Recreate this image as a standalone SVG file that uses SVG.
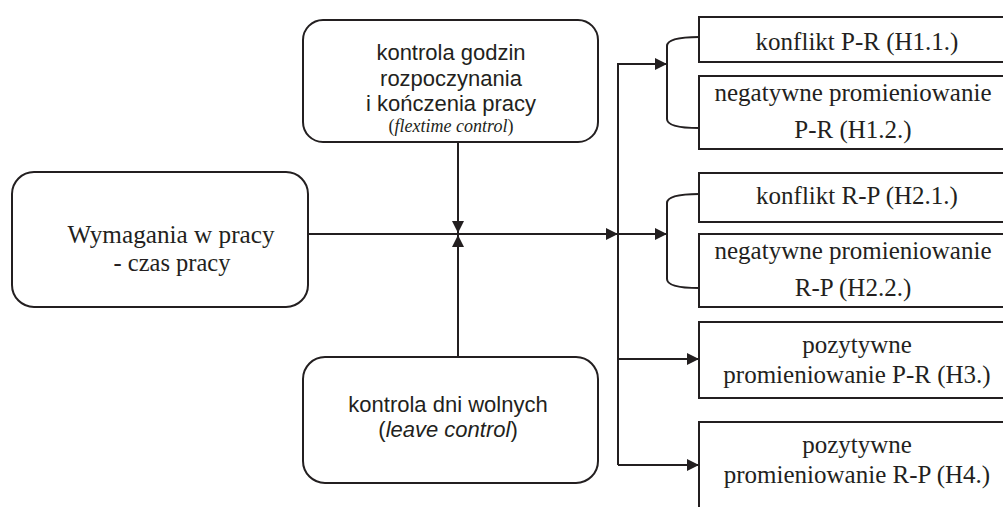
<svg xmlns="http://www.w3.org/2000/svg" width="1003" height="507" viewBox="0 0 1003 507">
<style>
.box{fill:#fff;stroke:#231f20;stroke-width:2}
.ln{fill:none;stroke:#231f20;stroke-width:2}
.serif{font-family:"Liberation Serif","Times New Roman",serif;fill:#231f20;text-anchor:middle}
.sans{font-family:"Liberation Sans",Arial,sans-serif;fill:#231f20;text-anchor:middle}
.r{font-size:25px}
</style>
<defs>
<marker id="arr" viewBox="0 0 12 12" refX="12" refY="6" markerWidth="12" markerHeight="12" markerUnits="userSpaceOnUse" orient="auto">
<path d="M0,0 L12,6 L0,12 Z" fill="#231f20"/>
</marker>
</defs>
<rect width="1003" height="507" fill="#fff"/>
<g id="connectors">
<line class="ln" x1="308" y1="234" x2="618" y2="234" marker-end="url(#arr)"/>
<line class="ln" x1="618" y1="234" x2="667" y2="234" marker-end="url(#arr)"/>
<line class="ln" x1="458" y1="142" x2="458" y2="233" marker-end="url(#arr)"/>
<line class="ln" x1="458" y1="357" x2="458" y2="235" marker-end="url(#arr)"/>
<path class="ln" d="M618,465 V64 H667" marker-end="url(#arr)"/>
<line class="ln" x1="618" y1="359" x2="699" y2="359" marker-end="url(#arr)"/>
<line class="ln" x1="618" y1="465" x2="699" y2="465" marker-end="url(#arr)"/>
<path class="ln" d="M699,37 C680,37 667,39 667,46 V119 C667,126 680,128 699,128"/>
<path class="ln" d="M699,194 C680,194 667,196 667,203 V279 C667,286 680,288 699,288"/>
</g>
<g id="demands">
<rect class="box" x="12" y="172" width="296" height="135" rx="22"/>
<text class="serif" font-size="26" x="171" y="243" textLength="207" lengthAdjust="spacingAndGlyphs">Wymagania w pracy</text>
<text class="serif" font-size="26" x="172" y="271" textLength="117" lengthAdjust="spacingAndGlyphs">- czas pracy</text>
</g>
<g id="flextime">
<rect class="box" x="303" y="20" width="295" height="122" rx="20"/>
<text class="sans" font-size="22" x="451" y="60">kontrola godzin</text>
<text class="sans" font-size="22" x="451" y="86">rozpoczynania</text>
<text class="sans" font-size="22" x="451" y="111">i kończenia pracy</text>
<text class="serif" font-size="18" x="451" y="132">(<tspan font-style="italic">flextime control</tspan>)</text>
</g>
<g id="leave">
<rect class="box" x="303" y="357" width="295" height="126" rx="22"/>
<text class="sans" font-size="22" x="448" y="412">kontrola dni wolnych</text>
<text class="sans" font-size="22" x="448" y="437">(<tspan font-style="italic">leave control</tspan>)</text>
</g>
<g id="h11">
<rect class="box" x="699" y="17" width="320" height="45"/>
<text class="serif r" x="857" y="50">konflikt P-R (H1.1.)</text>
</g>
<g id="h12">
<rect class="box" x="699" y="76" width="320" height="73"/>
<text class="serif r" x="853" y="101">negatywne promieniowanie</text>
<text class="serif r" x="853" y="138">P-R (H1.2.)</text>
</g>
<g id="h21">
<rect class="box" x="699" y="173" width="320" height="49"/>
<text class="serif r" x="857" y="204">konflikt R-P (H2.1.)</text>
</g>
<g id="h22">
<rect class="box" x="699" y="234" width="320" height="73"/>
<text class="serif r" x="853" y="259">negatywne promieniowanie</text>
<text class="serif r" x="853" y="296">R-P (H2.2.)</text>
</g>
<g id="h3">
<rect class="box" x="699" y="322" width="320" height="76"/>
<text class="serif r" x="857" y="353">pozytywne</text>
<text class="serif r" x="857" y="383">promieniowanie P-R (H3.)</text>
</g>
<g id="h4">
<rect class="box" x="699" y="422" width="320" height="100"/>
<text class="serif r" x="857" y="453">pozytywne</text>
<text class="serif r" x="857" y="483">promieniowanie R-P (H4.)</text>
</g>
</svg>
